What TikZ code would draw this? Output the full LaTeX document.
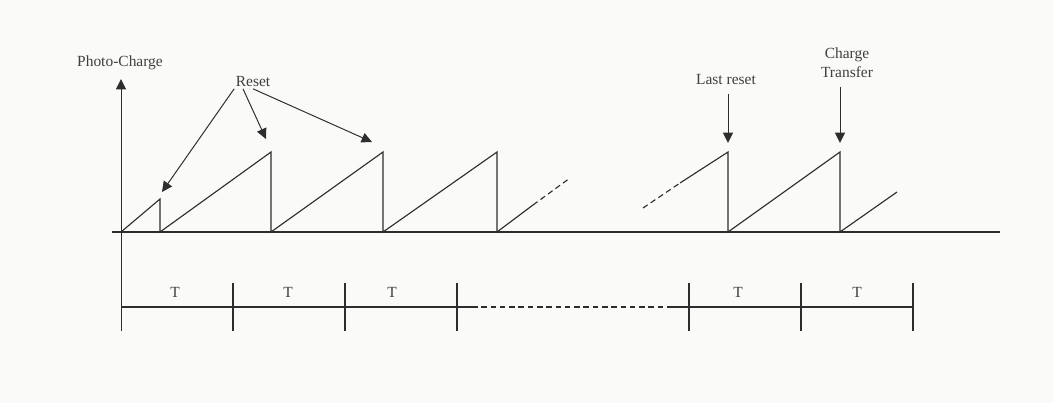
\documentclass[tikz,border=0pt]{standalone}
\usepackage{fontspec}
\setmainfont{Liberation Serif}
\usepackage{xcolor}
\usepackage{tikz}
\usetikzlibrary{arrows.meta}
\definecolor{pagebg}{RGB}{250,250,248}
\definecolor{traceline}{RGB}{45,45,45}
\definecolor{labeltext}{RGB}{64,64,64}

\begin{document}
\begin{tikzpicture}[
    x=0.025cm, y=-0.025cm,
    font=\fontsize{11}{13.5}\selectfont,
    lbl/.style={text=labeltext, inner sep=1pt, align=center},
    trace/.style={draw=traceline, line width=0.8pt},
    gap/.style={trace, dash pattern=on 4pt off 2.6pt},
    arrow/.style={-{Triangle[length=2.6mm, width=2.5mm]}, draw=traceline, line width=0.7pt}
  ]
    \fill[pagebg] (0,0) rectangle (1053,403);

    % labels
    \node[lbl] (photocharge) at (120,63) {Photo-Charge};
    \node[lbl] (reset) at (253,82) {Reset};
    \node[lbl] (lastreset) at (726,80) {Last reset};
    \node[lbl] (transfer) at (847,63) {Charge\\Transfer};

    % arrow targets and axis ends
    \coordinate (axisfoot) at (121,331);
    \coordinate (axistop) at (121,79);
    \coordinate (firstpeak) at (162,192);
    \coordinate (secondpeak) at (266,139);
    \coordinate (thirdpeak) at (372,142);
    \coordinate (lastpeak) at (728,143);
    \coordinate (transferpeak) at (840,143);

    % axes
    \draw[arrow] (axisfoot) -- (axistop);
    \draw[trace] (112,232) -- (1000,232);

    % photo-charge ramps
    \draw[trace] (121,232) -- (160,199) -- (160,232) -- (271,152) -- (271,232)
      -- (383,152) -- (383,232) -- (497,152) -- (497,232) -- (533,205);
    \draw[gap] (533,205) -- (570,178);
    \draw[gap] (643,208) -- (680,183);
    \draw[trace] (680,183) -- (728,152) -- (728,232) -- (840,152) -- (840,232) -- (897,192);

    % reset markers
    \draw[arrow] (reset.south west) -- (firstpeak);
    \draw[arrow] ([xshift=-0.25cm]reset.south) -- (secondpeak);
    \draw[arrow] (reset.south) -- (thirdpeak);
    \draw[arrow, shorten <=1.8mm] (lastreset.south -| lastpeak) -- (lastpeak);
    \draw[arrow, shorten <=1.8mm] (transfer.south -| transferpeak) -- (transferpeak);

    % periods
    \draw[trace] (121,307) -- (472,307);
    \draw[gap] (472,307) -- (673,307);
    \draw[trace] (673,307) -- (913,307);
    \foreach \x in {233,345,457,689,801,913}
      \draw[trace] (\x,283) -- (\x,331);
    \foreach \x [count=\i] in {175,288,392,738,857}
      \node[lbl] (period\i) at (\x,292) {T};
\end{tikzpicture}
\end{document}
